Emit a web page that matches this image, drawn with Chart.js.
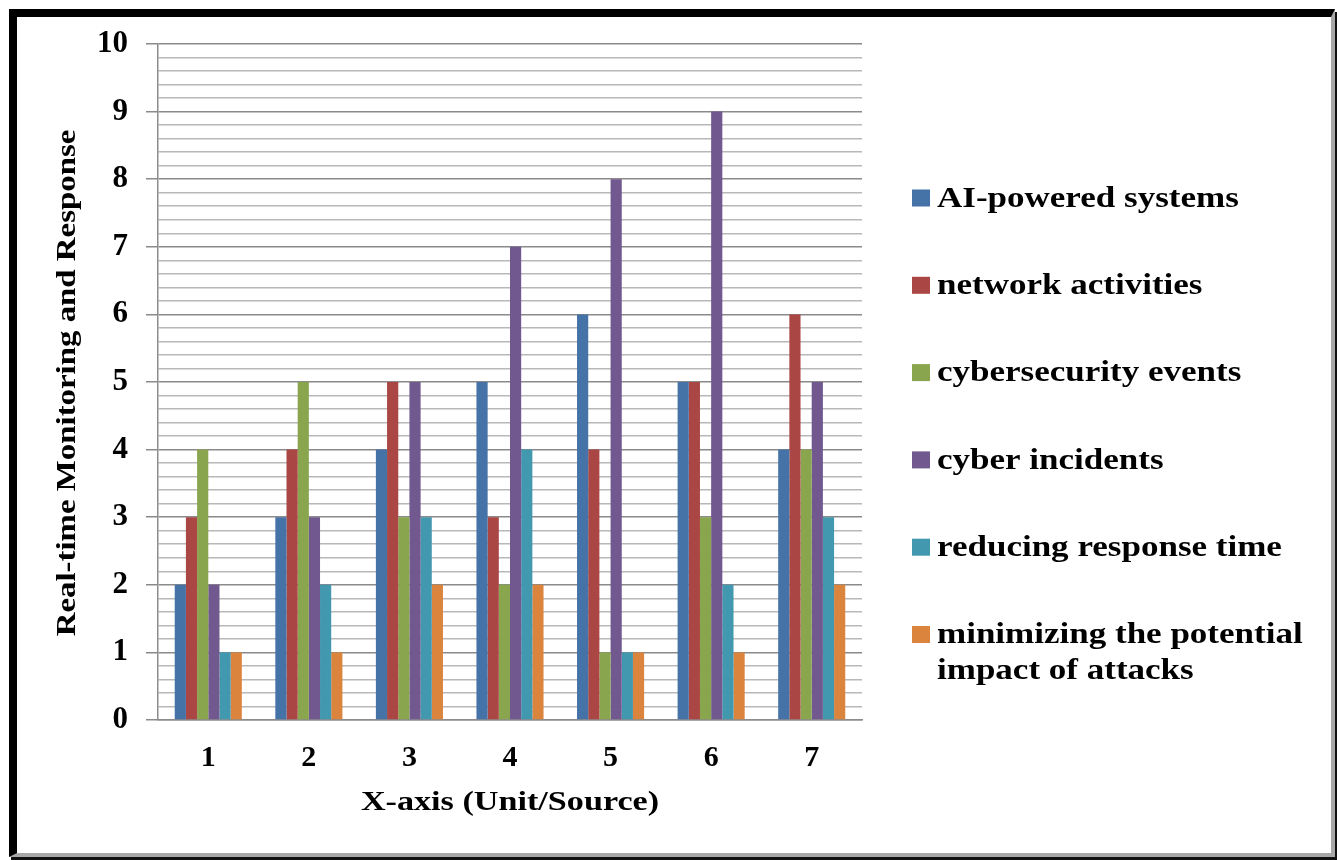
<!DOCTYPE html>
<html>
<head>
<meta charset="utf-8">
<script src="https://cdn.jsdelivr.net/npm/chart.js@4.4.1/dist/chart.umd.min.js"></script>
<style>
  html, body { margin: 0; padding: 0; background: #ffffff; }
  body { width: 1337px; height: 860px; position: relative; overflow: hidden; }
  #frame {
    position: absolute; left: 9px; top: 9px; width: 1314px; height: 836px;
    border-left: 8px solid #000; border-top: 8px solid #000;
    border-right: 4px solid #a8a8a8; border-bottom: 4px solid #a8a8a8;
    box-shadow: 2px 3px 0 #111;
    background: #fff;
  }
  #wrap { position: absolute; left: 0; top: 0; width: 1337px; height: 860px; }
</style>
</head>
<body>
<div id="frame"></div>
<div id="wrap"><canvas id="c" width="1337" height="860"></canvas></div>
<script>
const categories = ['1', '2', '3', '4', '5', '6', '7'];
const seriesNames = ['AI-powered systems', 'network activities', 'cybersecurity events', 'cyber incidents', 'reducing response time', 'minimizing the potential impact of attacks'];
const aiPowered      = [2, 3, 4, 5, 6, 5, 4];
const networkAct     = [3, 4, 5, 3, 4, 5, 6];
const cyberEvents    = [4, 5, 3, 2, 1, 3, 4];
const cyberIncidents = [2, 3, 5, 7, 8, 9, 5];
const reducingTime   = [1, 2, 3, 4, 1, 2, 3];
const minimizing     = [1, 1, 2, 2, 1, 1, 2];
const seriesColors = ['#4572A7', '#AA4643', '#89A54E', '#71588F', '#4198AF', '#DB843D'];
const yTitle = 'Real-time Monitoring and Response';
const xTitle = 'X-axis (Unit/Source)';

const FONT = '"Liberation Serif", "Times New Roman", serif';
const seriesValues = [aiPowered, networkAct, cyberEvents, cyberIncidents, reducingTime, minimizing];

function stretchedText(ctx, text, x, y, sx, align) {
  ctx.save();
  ctx.translate(x, y);
  ctx.scale(sx, 1);
  ctx.textAlign = align;
  ctx.fillText(text, 0, 0);
  ctx.restore();
}

const textPlugin = {
  id: 'sideText',
  afterDraw(chart) {
    const ctx = chart.ctx;
    const area = chart.chartArea;
    ctx.save();
    // legend
    const LSX = 1.167;
    ctx.font = 'bold 30px ' + FONT;
    ctx.textBaseline = 'middle';
    const x0 = 912, y0 = 198, step = 87.3, lineH = 36, maxW = 375;
    chart.data.datasets.forEach((ds, i) => {
      const y = y0 + i * step;
      ctx.fillStyle = ds.backgroundColor;
      ctx.fillRect(x0, y - 8.5, 18, 17);
      ctx.fillStyle = '#000';
      const words = ds.label.split(' ');
      const lines = [];
      let cur = '';
      words.forEach(w => {
        const t = cur ? cur + ' ' + w : w;
        if (ctx.measureText(t).width * LSX > maxW && cur) { lines.push(cur); cur = w; } else { cur = t; }
      });
      lines.push(cur);
      lines.forEach((ln, k) => stretchedText(ctx, ln, x0 + 25, y + 1 + k * lineH, LSX, 'left'));
    });
    // axis titles
    ctx.fillStyle = '#000';
    ctx.font = 'bold 28px ' + FONT;
    stretchedText(ctx, xTitle, (area.left + area.right) / 2, 803, 1.22, 'center');
    ctx.save();
    ctx.translate(68, 383);
    ctx.rotate(-Math.PI / 2);
    ctx.font = 'bold 27px ' + FONT;
    stretchedText(ctx, yTitle, 0, 0, 1.217, 'center');
    ctx.restore();
    ctx.restore();
  }
};

new Chart(document.getElementById('c'), {
  type: 'bar',
  data: {
    labels: categories,
    datasets: seriesNames.map((n, i) => ({
      label: n,
      data: seriesValues[i],
      backgroundColor: seriesColors[i],
      borderWidth: 0,
      categoryPercentage: 0.667,
      barPercentage: 1.0
    }))
  },
  options: {
    responsive: false,
    animation: false,
    devicePixelRatio: 1,
    layout: { padding: { left: 52, top: 44, right: 475, bottom: 0 } },
    plugins: { legend: { display: false }, tooltip: { enabled: false } },
    scales: {
      x: {
        grid: { display: false },
        border: { display: true, color: '#8c8c8c', width: 1.5 },
        ticks: { color: '#000', font: { family: FONT, size: 30, weight: 'bold' }, padding: 12, maxRotation: 0 },
        title: { display: false },
        afterFit(s) { s.height = 140; }
      },
      y: {
        min: 0, max: 10,
        ticks: {
          stepSize: 0.2, autoSkip: false, color: '#000', padding: 18,
          font: { family: FONT, size: 31, weight: 'bold' },
          callback(v) { const r = Math.round(v * 5) / 5; return Math.abs(r - Math.round(r)) < 1e-6 ? String(Math.round(r)) : ''; }
        },
        grid: {
          tickLength: 12,
          lineWidth: 1.5,
          color(c) { const v = c.tick ? c.tick.value : 0; return Math.abs(v - Math.round(v)) < 1e-6 ? '#8a8a8a' : '#b8b8b8'; },
          tickColor(c) { const v = c.tick ? c.tick.value : 0; return Math.abs(v - Math.round(v)) < 1e-6 ? '#8a8a8a' : 'rgba(0,0,0,0)'; }
        },
        border: { display: true, color: '#8c8c8c', width: 1.5 },
        title: { display: false },
        afterFit(s) { s.width = 106; }
      }
    }
  },
  plugins: [textPlugin]
});
</script>
</body>
</html>
